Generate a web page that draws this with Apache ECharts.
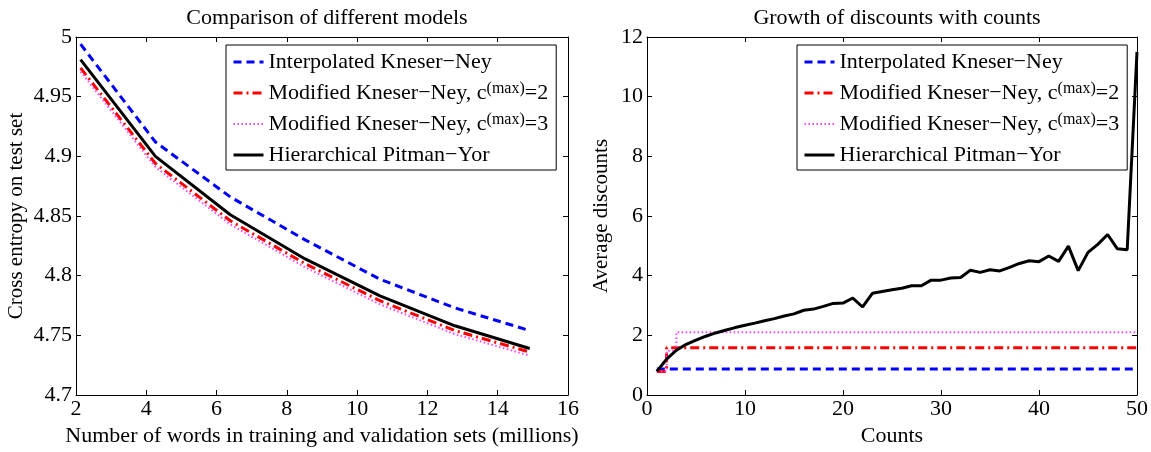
<!DOCTYPE html>
<html lang="en">
<head>
    <meta charset="UTF-8">
    <title>Discounts and cross entropy</title>
    <style>
        html, body { margin: 0; padding: 0; background: #fff; }
        #main { width: 1151px; height: 452px; }
    </style>
    <script src="https://cdn.jsdelivr.net/npm/echarts@6/dist/echarts.min.js"></script>
</head>
<body>
<div id="main"></div>
<script type="text/javascript">
    // left plot: training set size (millions) vs cross entropy
    var trainSizes = [2.13, 4.26, 6.39, 8.52, 10.65, 12.78, 14.91];
    var iknEntropy = [4.994, 4.912, 4.866, 4.830, 4.797, 4.773, 4.754];
    var mkn2Entropy = [4.974, 4.894, 4.846, 4.810, 4.779, 4.754, 4.736];
    var mkn3Entropy = [4.971, 4.891, 4.843, 4.807, 4.776, 4.751, 4.733];
    var hpyEntropy = [4.981, 4.900, 4.851, 4.814, 4.783, 4.758, 4.739];

    // right plot: average discount per count
    var hpyDiscount = [0.79, 1.20, 1.50, 1.70, 1.84, 1.97, 2.08, 2.17, 2.26, 2.34,
                       2.41, 2.49, 2.56, 2.65, 2.72, 2.84, 2.88, 2.97, 3.07, 3.08,
                       3.25, 2.95, 3.41, 3.47, 3.53, 3.58, 3.66, 3.66, 3.85, 3.85,
                       3.92, 3.94, 4.18, 4.11, 4.20, 4.16, 4.28, 4.41, 4.50, 4.47,
                       4.66, 4.48, 4.99, 4.17, 4.78, 5.05, 5.38, 4.90, 4.87, 11.5];
    var iknCounts = [1, 50];
    var iknDiscount = [0.87, 0.87];
    var mkn2Counts = [1, 2, 50];
    var mkn2Discount = [0.79, 1.58, 1.58];
    var mkn3Counts = [1, 2, 3, 50];
    var mkn3Discount = [0.79, 1.48, 2.10, 2.10];

    var names = ['Interpolated Kneser\u2212Ney',
                 'Modified Kneser\u2212Ney, c(max)=2',
                 'Modified Kneser\u2212Ney, c(max)=3',
                 'Hierarchical Pitman\u2212Yor'];

    var FONT = '"Liberation Serif", "DejaVu Serif", serif';
    var TICK = 22;

    function pairs(xs, ys) {
        return xs.map(function (x, i) { return [x, ys[i]]; });
    }

    var styles = [
        { color: '#0000ff', width: 3, type: [8, 5] },
        { color: '#ff0000', width: 3, type: [9, 4, 2, 4] },
        { color: '#ff44ff', width: 2, type: [1.5, 2.5] },
        { color: '#000000', width: 3, type: 'solid' }
    ];

    function mkSeries(i, xIdx, yIdx, data, step) {
        return {
            name: names[i],
            type: 'line',
            xAxisIndex: xIdx,
            yAxisIndex: yIdx,
            data: data,
            step: step || false,
            symbol: 'none',
            animation: false,
            lineStyle: styles[i],
            itemStyle: { color: styles[i].color }
        };
    }

    function xAx(grid, pos, min, max, interval, name, show) {
        return {
            type: 'value', gridIndex: grid, position: pos,
            min: min, max: max, interval: interval,
            name: show ? name : '', nameLocation: 'middle', nameGap: 30,
            nameTextStyle: { color: '#000', fontSize: 22, fontFamily: FONT },
            axisLine: { show: true, onZero: false, lineStyle: { color: '#000', width: 1 } },
            axisTick: { show: true, inside: true, length: 5, lineStyle: { color: '#000' } },
            axisLabel: { show: show, color: '#000', fontSize: TICK, fontFamily: FONT, margin: 3 },
            splitLine: { show: false }
        };
    }

    function yAx(grid, pos, min, max, interval, name, show, gap) {
        return {
            type: 'value', gridIndex: grid, position: pos,
            min: min, max: max, interval: interval,
            name: show ? name : '', nameLocation: 'middle', nameGap: gap,
            nameTextStyle: { color: '#000', fontSize: 21, fontFamily: FONT },
            axisLine: { show: true, onZero: false, lineStyle: { color: '#000', width: 1 } },
            axisTick: { show: true, inside: true, length: 5, lineStyle: { color: '#000' } },
            axisLabel: { show: show, color: '#000', fontSize: TICK, fontFamily: FONT, margin: 4 },
            splitLine: { show: false }
        };
    }

    function legend(left, top) {
        return {
            data: names, orient: 'vertical', left: left, top: top,
            itemGap: 7, itemWidth: 30, itemHeight: 12,
            // hide the marker, keep only the styled line at full width
            itemStyle: { color: 'rgba(0,0,0,0)', borderColor: 'rgba(0,0,0,0)', borderWidth: 0 },
            lineStyle: { width: 'inherit' },
            padding: [5, 8, 3, 6],
            backgroundColor: '#fff', borderColor: '#000', borderWidth: 1, borderRadius: 0,
            selectedMode: false,
            formatter: function (name) {
                return name.replace('c(max)', 'c{sup|(max)}');
            },
            textStyle: {
                color: '#000', fontSize: 22, fontFamily: FONT, lineHeight: 24,
                rich: {
                    sup: { fontSize: 16, fontFamily: FONT, color: '#000', verticalAlign: 'top', lineHeight: 14 }
                }
            }
        };
    }

    var myChart = echarts.init(document.getElementById('main'), null, { renderer: 'canvas' });

    var option = {
        backgroundColor: '#fff',
        animation: false,
        title: [
            { text: 'Comparison of different models', left: 322, top: 2, textAlign: 'center',
              textStyle: { color: '#000', fontSize: 22, fontWeight: 'normal', fontFamily: FONT } },
            { text: 'Growth of discounts with counts', left: 892, top: 2, textAlign: 'center',
              textStyle: { color: '#000', fontSize: 22, fontWeight: 'normal', fontFamily: FONT } }
        ],
        legend: [legend(226, 45), legend(797, 45)],
        grid: [
            { left: 76, top: 37, width: 492, height: 370 },
            { left: 647, top: 37, width: 490, height: 369 }
        ],
        xAxis: [
            xAx(0, 'bottom', 2, 16, 2, 'Number of words in training and validation sets (millions)', true),
            xAx(0, 'top', 2, 16, 2, '', false),
            xAx(1, 'bottom', 0, 50, 10, 'Counts', true),
            xAx(1, 'top', 0, 50, 10, '', false)
        ],
        yAxis: [
            yAx(0, 'left', 4.7, 5, 0.05, 'Cross entropy on test set', true, 49),
            yAx(0, 'right', 4.7, 5, 0.05, '', false, 0),
            yAx(1, 'left', 0, 12, 2, 'Average discounts', true, 35),
            yAx(1, 'right', 0, 12, 2, '', false, 0)
        ],
        series: [
            mkSeries(0, 0, 0, pairs(trainSizes, iknEntropy)),
            mkSeries(1, 0, 0, pairs(trainSizes, mkn2Entropy)),
            mkSeries(2, 0, 0, pairs(trainSizes, mkn3Entropy)),
            mkSeries(3, 0, 0, pairs(trainSizes, hpyEntropy)),
            mkSeries(0, 2, 2, pairs(iknCounts, iknDiscount), 'end'),
            mkSeries(1, 2, 2, pairs(mkn2Counts, mkn2Discount), 'end'),
            mkSeries(2, 2, 2, pairs(mkn3Counts, mkn3Discount), 'end'),
            mkSeries(3, 2, 2, hpyDiscount.map(function (v, i) { return [i + 1, v]; }))
        ]
    };
    myChart.setOption(option);
</script>
</body>
</html>
